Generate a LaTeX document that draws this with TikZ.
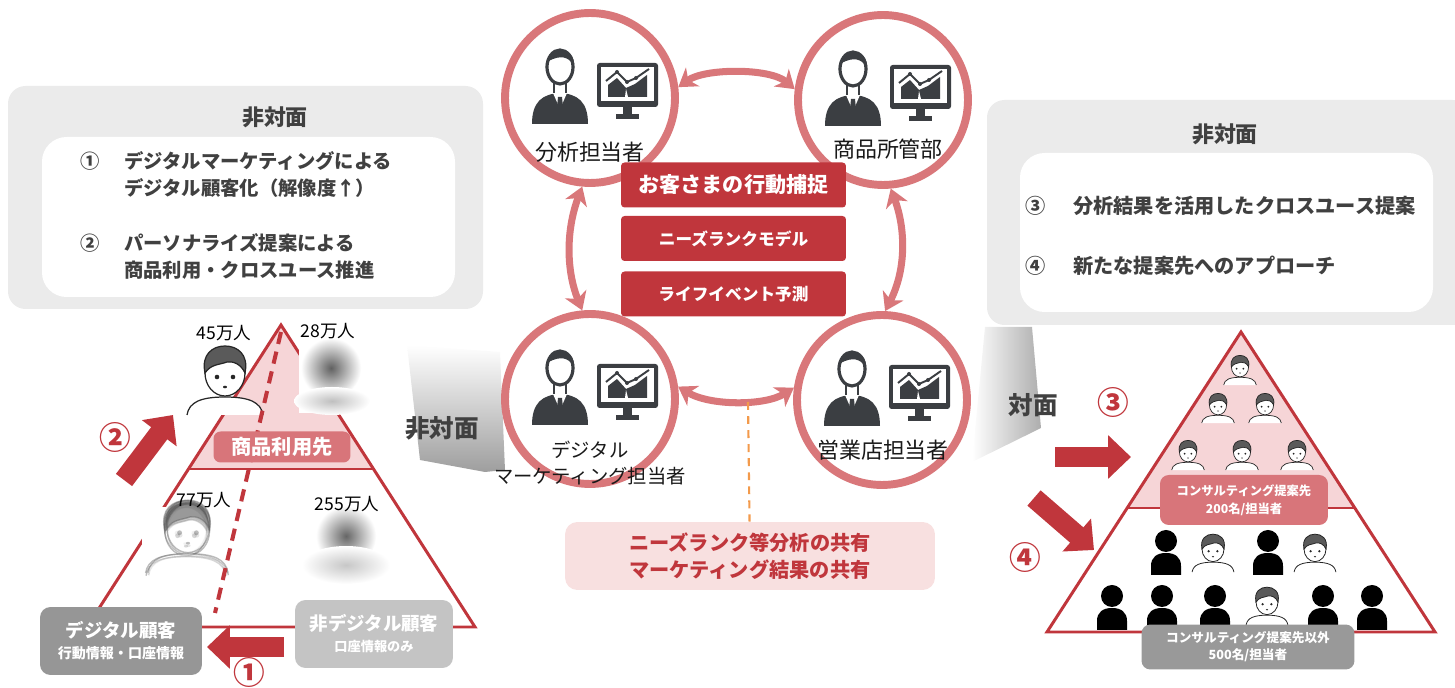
\documentclass[tikz,border=0pt]{standalone}
\usepackage{fontspec}
\setmainfont{Noto Sans CJK JP}
\usetikzlibrary{arrows.meta}

\definecolor{salmon}{HTML}{D9777A}
\definecolor{darkred}{HTML}{C0363C}
\definecolor{rose}{HTML}{D8757A}
\definecolor{blush}{HTML}{F6D5D7}
\definecolor{shell}{HTML}{F8E0E0}
\definecolor{panelgray}{HTML}{EBEBEB}
\definecolor{inkgray}{HTML}{404040}
\definecolor{icongray}{HTML}{3B3E42}
\definecolor{hairgray}{HTML}{5A5A5A}
\definecolor{lineorange}{HTML}{F39A4B}

\newcommand{\fsz}[2]{\fontsize{#1}{#2}\selectfont}

\tikzset{
  hub/.style={circle, draw=salmon, line width=4.5pt, fill=white, minimum size=3.4cm, inner sep=0pt},
  hublabel/.style={font=\fsz{12.5}{15}, text=black!90, align=center},
  redtag/.style={fill=darkred, text=white, rounded corners=2pt, minimum width=4.5cm, minimum height=0.9cm, inner sep=0pt},
  link/.style={draw=salmon, line width=4pt, arrows={Stealth[length=10pt,width=13pt,inset=3pt]-Stealth[length=10pt,width=13pt,inset=3pt]}},
  fatarrow/.style={draw=darkred, line width=11.5pt, arrows={-Triangle[length=13pt,width=24pt]}},
  tri/.style={draw=darkred, line width=1.7pt, line join=miter},
  numred/.style={text=darkred, font=\bfseries\fsz{18}{20}},
  panelbox/.style={fill=panelgray, rounded corners=10pt},
  innerbox/.style={fill=white, rounded corners=14pt},
  paneltext/.style={anchor=west, text=inkgray, font=\bfseries\fsz{11}{13}},
  panelnum/.style={text=inkgray, font=\bfseries\fsz{11}{13}},
  count/.style={font=\fsz{10}{12}},
  custbox/.style={text=white, rounded corners=6pt, minimum height=1.36cm, align=center, inner sep=0pt},
  % person at a desk screen, drawn round the centre of a hub
  agent/.pic={
    \fill[icongray] (-58,26) .. controls (-58,4) and (-48,-4) .. (-30,-5) .. controls (-12,-4) and (-2,4) .. (-2,26) -- cycle;
    \fill[white] (-37,-5) -- (-30,11) -- (-23,-5) -- cycle;
    \fill[icongray] (-32,-1) -- (-28,-1) -- (-27,9) -- (-30,14) -- (-33,9) -- cycle;
    \draw[icongray, line width=1.3pt, fill=white] (-36,-5) -- (-36,-17) -- (-24,-17) -- (-24,-5);
    \draw[icongray, line width=1.8pt, fill=white] (-30,-31) ellipse [x radius=13, y radius=17];
    \fill[icongray] (-44,-29) .. controls (-47,-52) and (-13,-57) .. (-16,-29) .. controls (-18,-40) and (-27,-43) .. (-37,-39) .. controls (-42,-37) .. (-44,-29) -- cycle;
    \fill[icongray, rounded corners=1.5pt] (7,-35) rectangle (68,9);
    \fill[white] (11,-31) rectangle (64,3);
    \fill[icongray] (33,9) rectangle (42,17);
    \fill[icongray] (26,16) rectangle (49,21);
    \fill[icongray] (18,-1) -- (18,-13) -- (27,-20) -- (36,-10) -- (45,-14) -- (57,-23) -- (57,-1) -- cycle;
    \fill[white] (35,-1) -- (36,-9) -- (38,-1) -- cycle;
    \draw[icongray, line width=1.1pt] (16,-17) -- (27,-26) -- (37,-16) -- (46,-20) -- (59,-29);
    \foreach \p in {(27,-26),(37,-16),(46,-20)}
      \fill[icongray] \p circle [radius=2];
  },
  % cartoon customer
  kid/.pic={
    \draw[fill=white] (-38,42) .. controls (-36,29) and (-24,24) .. (0,24) .. controls (24,24) and (36,29) .. (38,42);
    \draw[fill=white] (0,0) ellipse [x radius=20, y radius=23];
    \draw[fill=hairgray] (-20,0) .. controls (-24,-19) and (-12,-27) .. (0,-27) .. controls (12,-27) and (24,-19) .. (20,0) .. controls (16,-9) and (8,-12) .. (2,-11) .. controls (-6,-8) and (-14,-9) .. (-20,0) -- cycle;
    \fill (-8,4) circle [radius=2.3];
    \fill (8,4) circle [radius=2.3];
    \fill (0,14) ellipse [x radius=2, y radius=1.3];
  },
  % black silhouette
  shadowman/.pic={
    \fill (0,0) circle [radius=11];
    \fill (-15,34) -- (-15,25) .. controls (-15,16) and (-9,12) .. (0,12) .. controls (9,12) and (15,16) .. (15,25) -- (15,34) -- cycle;
  },
}

\begin{document}
\begin{tikzpicture}[x=0.02cm, y=-0.02cm]
\useasboundingbox (0,0) rectangle (1455,688);

% side panels
\fill[panelbox] (8,86) rectangle (483,309);
\fill[innerbox] (42,137) rectangle (455,297);
\fill[panelbox] (987,100) rectangle (1470,325);
\fill[innerbox] (1020,153) rectangle (1433,312);

\node[panelnum, font=\bfseries\fsz{12.5}{15}] (ltitle) at (275,117) {非対面};
\node[panelnum] (n1) at (90,161) {①};
\node[paneltext] (t1a) at (118,161) {デジタルマーケティングによる};
\node[paneltext] (t1b) at (118,188) {デジタル顧客化（解像度↑）};
\node[panelnum] (n2) at (90,243) {②};
\node[paneltext] (t2a) at (118,243) {パーソナライズ提案による};
\node[paneltext] (t2b) at (118,270) {商品利用・クロスユース推進};

\node[panelnum, font=\bfseries\fsz{12.5}{15}] (rtitle) at (1225,134) {非対面};
\node[panelnum, font=\bfseries\fsz{11.5}{13}] (n3) at (1036,206) {③};
\node[paneltext, font=\bfseries\fsz{11.5}{13}] (t3) at (1067,206) {分析結果を活用したクロスユース提案};
\node[panelnum, font=\bfseries\fsz{11.5}{13}] (n4) at (1036,266) {④};
\node[paneltext, font=\bfseries\fsz{11.5}{13}] (t4) at (1067,266) {新たな提案先へのアプローチ};

% shaded walls
\shade[top color=white, bottom color=black!38] (407,345) -- (500,352) -- (505,470) -- (485,472) -- (420,460) -- cycle;
\shade[left color=white, right color=black!32] (985,327) -- (1032,327) -- (1041,428) -- (972,462) -- cycle;
\node[font=\bfseries\fsz{14}{16}, text=inkgray] (remote) at (442,428) {非対面};
\node[font=\bfseries\fsz{14}{16}, text=inkgray] (inperson) at (1033,405) {対面};

% left pyramid
\coordinate (ltop) at (281,325);
\fill[blush] (ltop) -- (188.5,469) -- (373.5,469) -- cycle;
\draw[tri] (ltop) -- (87,627) -- (475,627) -- cycle;
\draw[tri] (188.5,469) -- (373.5,469);

\pic[color=black!85, line width=0.7pt] at (225,373) {kid};
\fill[white] (299,347) rectangle (366,413);
\shade[inner color=black!62, outer color=white] (331,368) circle [radius=30];
\shade[inner color=black!25, outer color=white] (332,401) ellipse [x radius=38, y radius=14];
\fill[white] (142,507) rectangle (234,584);
\foreach \dx/\dy in {-1.5/-1, 1.5/1, -1/1.5, 1/-1.5}
  \pic[shift={(\dx,\dy)}, opacity=0.4, color=black!65, line width=0.8pt, scale=1.05] at (187,530) {kid};
\fill[white] (302,512) rectangle (390,583);
\shade[inner color=black!60, outer color=white] (346,536) circle [radius=30];
\shade[inner color=black!22, outer color=white] (346,565) ellipse [x radius=44, y radius=19];

\node[count] (c45) at (224,333) {45万人};
\node[count] (c28) at (328,331) {28万人};
\node[count] (c77) at (204,500) {77万人};
\node[count] (c255) at (347,504) {255万人};

\coordinate (dtop) at (281,332);
\coordinate (dbot) at (215,613);
\draw[darkred, line width=2.3pt, dash pattern=on 7pt off 4.5pt] (dtop) -- (dbot);

\node[fill=rose, text=white, rounded corners=4pt, minimum width=2.74cm, minimum height=0.62cm, inner sep=0pt, font=\bfseries\fsz{11.5}{13}] (users) at (282,447) {商品利用先};

\node[custbox, fill=black!41, minimum width=3.24cm] (digi) at (121,641)
  {{\bfseries\fsz{10.5}{14}デジタル顧客}\\{\bfseries\fsz{8}{10}行動情報・口座情報}};
\node[custbox, fill=black!23, minimum width=3.16cm] (nondigi) at (374,634)
  {{\bfseries\fsz{10.5}{14}非デジタル顧客}\\{\bfseries\fsz{7.5}{10}口座情報のみ}};

\coordinate (a1from) at (284,647);
\coordinate (a1to) at (207,647);
\draw[fatarrow] (a1from) -- (a1to);
\node[numred] (m1) at (249,672) {①};
\coordinate (a2from) at (124,480);
\coordinate (a2to) at (173,415);
\draw[fatarrow] (a2from) -- (a2to);
\node[numred] (m2) at (115,437) {②};

% hubs
\node[hub] (analyst) at (590,98) {};
\node[hub] (product) at (883,100) {};
\node[hub] (digital) at (590,399) {};
\node[hub] (branch) at (882,400) {};
\foreach \n in {analyst,product,digital,branch}
  \pic at (\n.center) {agent};

\draw[link] (analyst.7) .. controls (705,68) and (770,68) .. (product.173);
\draw[link] (analyst.265) .. controls (566,230) and (566,270) .. (digital.95);
\draw[link] (product.275) .. controls (906,230) and (906,270) .. (branch.88);
\draw[link] (digital.8) .. controls (710,406) and (765,406) .. (branch.172);

\node[hublabel] (lanalyst) at (590,152) {分析担当者};
\node[hublabel] (lproduct) at (888,149) {商品所管部};
\node[hublabel, font=\fsz{11}{15.3}] (ldigital) at (590,463) {デジタル\\マーケティング担当者};
\node[hublabel] (lbranch) at (883,450) {営業店担当者};

\node[redtag, font=\bfseries\fsz{12}{14}] (capture) at (733.5,185) {お客さまの行動捕捉};
\node[redtag, font=\bfseries\fsz{9.5}{12}] (needs) at (733.5,238.5) {ニーズランクモデル};
\node[redtag, font=\bfseries\fsz{9.5}{12}] (life) at (733.5,294) {ライフイベント予測};

\node[fill=shell, rounded corners=7pt, minimum width=7.4cm, minimum height=1.36cm, inner sep=0pt, text=darkred, align=center, font=\bfseries\fsz{11.5}{15.3}] (share) at (750,556) {ニーズランク等分析の共有\\マーケティング結果の共有};
\coordinate (tap) at (748,402);
\draw[lineorange, line width=1.2pt, dash pattern=on 4.5pt off 3.5pt] (tap) -- (share);

% right pyramid
\coordinate (rtop) at (1241,332);
\fill[blush] (rtop) -- (1127,508) -- (1355,508) -- cycle;
\draw[tri] (rtop) -- (1047,632) -- (1435,632) -- cycle;
\draw[tri] (1127,508) -- (1355,508);

\foreach \x/\y in {1240/367, 1218/405, 1265/405, 1188/452, 1242/452, 1297/452}
  \pic[scale=0.43, color=black!85, line width=0.4pt] at (\x,\y) {kid};
\foreach \x/\y in {1166/541, 1268/541, 1112/596, 1162/596, 1215/596, 1323/596, 1372/596}
  \pic at (\x,\y) {shadowman};
\foreach \x/\y in {1213/549, 1315/549, 1267/602}
  \pic[scale=0.55, color=black!85, line width=0.45pt] at (\x,\y) {kid};

\node[fill=rose, text=white, rounded corners=5pt, minimum width=3.36cm, minimum height=1cm, inner sep=0pt, align=center, font=\bfseries\fsz{7}{10}] (consult) at (1244,500) {コンサルティング提案先\\200名/担当者};
\node[fill=black!40, text=white, rounded corners=5pt, minimum width=4.26cm, minimum height=0.9cm, inner sep=0pt, align=center, font=\bfseries\fsz{7.2}{9.6}] (others) at (1248,647) {コンサルティング提案先以外\\500名/担当者};

\coordinate (a3from) at (1055,457);
\coordinate (a3to) at (1131,457);
\draw[fatarrow] (a3from) -- (a3to);
\node[numred] (m3) at (1113,402) {③};
\coordinate (a4from) at (1034,498);
\coordinate (a4to) at (1094,550);
\draw[fatarrow] (a4from) -- (a4to);
\node[numred] (m4) at (1025,557) {④};

\end{tikzpicture}
\end{document}
